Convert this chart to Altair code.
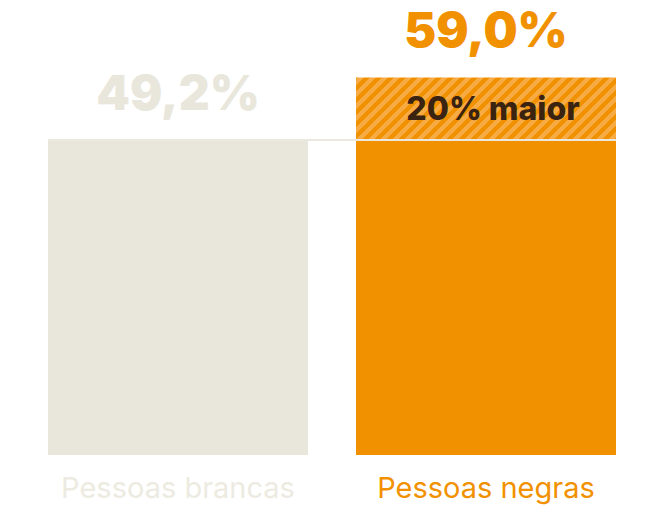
import altair as alt
import pandas as pd

# Data
grupos = ["Pessoas brancas", "Pessoas negras"]
valores = [49.2, 59.0]
rotulos_valor = ["49,2%", "59,0%"]
rotulo_diferenca = "20% maior"

# Styling
cores_barra = ["#E9E7DC", "#F29100"]
cores_rotulo = ["#EDEBE1", "#F29100"]
cor_listra = "#F6AB45"
cor_texto_escuro = "#3A2311"
cor_linha = "#EBE9DF"

largura_plot = 648
altura_plot = 448
dominio_y = [0, 70]
passo = 308
largura_barra = 260

base = valores[0]

df = pd.DataFrame({"grupo": grupos, "valor": valores, "rotulo": rotulos_valor})

x_scale = alt.Scale(
    domain=grupos,
    paddingInner=(passo - largura_barra) / passo,
    paddingOuter=40 / passo,
)
y_scale = alt.Scale(domain=dominio_y, nice=False, zero=True)
cor_barra = alt.Color("grupo:N", scale=alt.Scale(domain=grupos, range=cores_barra), legend=None)
cor_rotulo = alt.Color("grupo:N", scale=alt.Scale(domain=grupos, range=cores_rotulo), legend=None)

X = alt.X("grupo:N", scale=x_scale, axis=None, title=None)

# Diagonal stripes for the increment segment, built as a hard-stop linear gradient
px_por_unidade = altura_plot / (dominio_y[1] - dominio_y[0])
hatch_w = largura_barra
hatch_h = (valores[1] - base) * px_por_unidade
r = hatch_h / hatch_w
diag = hatch_w + hatch_h
k = diag / (hatch_w * (1 + r * r))
periodo, faixa, fase = 12.0, 6.0, 2.0
stops = []
pos = fase
while pos < diag:
    a = min(pos / diag, 1.0)
    b = min((pos + faixa) / diag, 1.0)
    stops += [
        alt.GradientStop(color=cores_barra[1], offset=a),
        alt.GradientStop(color=cor_listra, offset=a),
        alt.GradientStop(color=cor_listra, offset=b),
        alt.GradientStop(color=cores_barra[1], offset=b),
    ]
    pos += periodo
stops = [alt.GradientStop(color=cores_barra[1], offset=0)] + stops + [
    alt.GradientStop(color=cores_barra[1], offset=1)
]
listras = alt.LinearGradient(gradient="linear", stops=stops, x1=0, y1=0, x2=k, y2=k * r)

base_chart = alt.Chart(df)

# Solid part of each bar (up to the reference level)
barras = base_chart.transform_calculate(
    topo=f"min(datum.valor, {base})"
).mark_bar().encode(
    x=X,
    y=alt.Y("topo:Q", scale=y_scale, axis=None),
    y2=alt.datum(0),
    color=cor_barra,
)

# Increment above the reference level
incremento = base_chart.transform_filter(
    f"datum.valor > {base}"
).transform_calculate(
    inicio=f"{base}"
).mark_bar(fill=listras).encode(
    x=X,
    y=alt.Y("inicio:Q", scale=y_scale, axis=None),
    y2="valor:Q",
)

# Reference line at the lower value, across both bars
linha_df = pd.DataFrame({"de": [grupos[0]], "ate": [grupos[-1]], "nivel": [base]})
linha = alt.Chart(linha_df).mark_rule(color=cor_linha, strokeWidth=2).encode(
    x=alt.X("de:N", scale=x_scale, axis=None, bandPosition=0),
    x2=alt.X2("ate", bandPosition=1),
    y=alt.Y("nivel:Q", scale=y_scale, axis=None),
)

# Value labels above the bars
valores_txt = base_chart.mark_text(
    font="Inter", fontWeight=900, fontSize=48, baseline="alphabetic", dy=-30
).encode(
    x=X,
    y=alt.Y("valor:Q", scale=y_scale, axis=None),
    text="rotulo:N",
    color=cor_barra,
)

# Difference label inside the striped segment
dif_df = pd.DataFrame({"grupo": [grupos[1]], "meio": [(base + valores[1]) / 2], "txt": [rotulo_diferenca]})
dif_txt = alt.Chart(dif_df).mark_text(
    font="Inter", fontWeight=800, fontSize=32, baseline="middle", color=cor_texto_escuro, dx=7, dy=1
).encode(
    x=alt.X("grupo:N", scale=x_scale, axis=None),
    y=alt.Y("meio:Q", scale=y_scale, axis=None),
    text="txt:N",
)

# Category labels under the bars
categorias_txt = base_chart.mark_text(
    font="Inter", fontWeight=400, fontSize=29, baseline="alphabetic", dy=43
).encode(
    x=X,
    y=alt.datum(0, scale=y_scale),
    text="grupo:N",
    color=cor_rotulo,
)

chart = alt.layer(
    barras, incremento, linha, valores_txt, dif_txt, categorias_txt
).resolve_scale(color="independent").properties(
    width=largura_plot,
    height=altura_plot,
    autosize=alt.AutoSizeParams(type="none"),
    padding={"left": 8, "top": 7, "right": 0, "bottom": 65},
    background="white",
).configure_view(stroke=None)

chart.save("out.html", embed_options={"renderer": "svg", "actions": False})
